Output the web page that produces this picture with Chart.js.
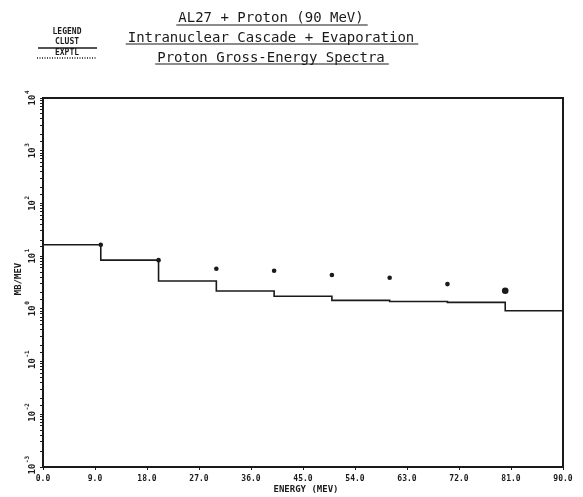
<!DOCTYPE html>
<html>
<head>
  <meta charset="UTF-8">
  <title>AL27 + Proton (90 MeV)</title>
  <script src="https://cdn.jsdelivr.net/npm/chart.js"></script>
  <style>
    html, body { margin: 0; padding: 0; background: #fff; }
    #wrap { width: 583px; height: 497px; }
  </style>
</head>
<body>
  <div id="wrap"><canvas id="chart" width="583" height="497"></canvas></div>

  <script>
    // cascade calculation: one value per 10 MeV bin (left edges)
    const binEdges = [0, 10, 20, 30, 40, 50, 60, 70, 80, 90];
    const clustValues = [16.4, 8.4, 3.37, 2.18, 1.74, 1.45, 1.38, 1.33, 0.92];

    // measured points
    const exptlEnergy = [10, 20, 30, 40, 50, 60, 70, 80];
    const exptlValues = [16.4, 8.4, 5.77, 5.28, 4.38, 3.89, 2.95, 2.21];

    const xTicks = [0, 9, 18, 27, 36, 45, 54, 63, 72, 81, 90];
    const yExponents = [-3, -2, -1, 0, 1, 2, 3, 4];

    const titleLines = [
      'AL27 + Proton (90 MeV)',
      'Intranuclear Cascade + Evaporation',
      'Proton Gross-Energy Spectra'
    ];

    const ink = '#1a1a1a';
    const mono = "'DejaVu Sans Mono', monospace";

    // step line: repeat the last level at the right edge
    const clustPoints = binEdges.map((e, i) => ({ x: e, y: clustValues[Math.min(i, clustValues.length - 1)] }));
    const exptlPoints = exptlEnergy.map((e, i) => ({ x: e, y: exptlValues[i] }));

    const decorations = {
      id: 'decorations',
      afterDraw(chart) {
        const c = chart.ctx;
        const a = chart.chartArea;
        const ys = chart.scales.y;
        c.save();

        // frame
        c.strokeStyle = ink;
        c.lineWidth = 2;
        c.strokeRect(a.left, a.top, a.right - a.left, a.bottom - a.top);

        // y tick labels, written sideways
        c.fillStyle = ink;
        yExponents.forEach(p => {
          const y = ys.getPixelForValue(Math.pow(10, p));
          c.save();
          c.translate(35, y);
          c.rotate(-Math.PI / 2);
          c.font = 'bold 9px ' + mono;
          c.textAlign = 'center';
          c.textBaseline = 'alphabetic';
          c.fillText('10', -2, 0);
          c.font = 'bold 6px ' + mono;
          c.textAlign = 'left';
          c.fillText(String(p), 4, -6);
          c.restore();
        });

        // axis titles
        c.font = 'bold 9px ' + mono;
        c.textAlign = 'center';
        c.textBaseline = 'middle';
        c.fillText('ENERGY (MEV)', 306, 490);
        c.save();
        c.translate(19, 279);
        c.rotate(-Math.PI / 2);
        c.fillText('MB/MEV', 0, 0);
        c.restore();

        // underlined title block
        c.font = '14px ' + mono;
        c.lineWidth = 1.2;
        const tY = [18, 38, 58];
        const uY = [25, 44, 64];
        titleLines.forEach((t, i) => {
          c.fillText(t, 271, tY[i]);
          const w = c.measureText(t).width;
          c.beginPath();
          c.moveTo(271 - w / 2 - 2, uY[i]);
          c.lineTo(271 + w / 2 + 4, uY[i]);
          c.stroke();
        });

        // legend
        c.font = 'bold 8px ' + mono;
        c.fillText('LEGEND', 67, 32);
        c.fillText('CLUST', 67, 42);
        c.fillText('EXPTL', 67, 53);
        c.lineWidth = 1.3;
        c.beginPath();
        c.moveTo(38, 48);
        c.lineTo(97, 48);
        c.stroke();
        c.setLineDash([1, 1.5]);
        c.beginPath();
        c.moveTo(37, 58);
        c.lineTo(97, 58);
        c.stroke();
        c.restore();
      }
    };

    new Chart(document.getElementById('chart'), {
      type: 'line',
      data: {
        datasets: [
          {
            label: 'CLUST',
            data: clustPoints,
            stepped: 'before',
            borderColor: ink,
            borderWidth: 1.6,
            pointRadius: 0,
            fill: false
          },
          {
            label: 'EXPTL',
            type: 'scatter',
            data: exptlPoints,
            showLine: false,
            pointRadius: [2.3, 2.3, 2.3, 2.3, 2.3, 2.3, 2.3, 3.3],
            pointBackgroundColor: ink,
            pointBorderWidth: 0
          }
        ]
      },
      plugins: [decorations],
      options: {
        responsive: false,
        animation: false,
        layout: { padding: { left: 0, top: 98, right: 20, bottom: 0 } },
        plugins: { legend: { display: false }, tooltip: { enabled: false } },
        scales: {
          x: {
            type: 'linear',
            min: 0,
            max: 90,
            afterBuildTicks: s => { s.ticks = xTicks.map(v => ({ value: v })); },
            afterFit: s => { s.height = 30; },
            ticks: {
              autoSkip: false,
              maxRotation: 0,
              padding: 4,
              color: ink,
              font: { family: mono, size: 8, weight: 'bold' },
              callback: v => v.toFixed(1)
            },
            grid: { drawOnChartArea: false, drawTicks: true, tickLength: 3, color: ink },
            border: { display: true, color: ink, width: 2 }
          },
          y: {
            type: 'logarithmic',
            min: 1e-3,
            max: 1e4,
            afterFit: s => { s.width = 43; },
            ticks: { display: false, autoSkip: false },
            grid: { drawOnChartArea: false, drawTicks: true, tickLength: 3, color: ink },
            border: { display: true, color: ink, width: 2 }
          }
        }
      }
    });
  </script>
</body>
</html>
